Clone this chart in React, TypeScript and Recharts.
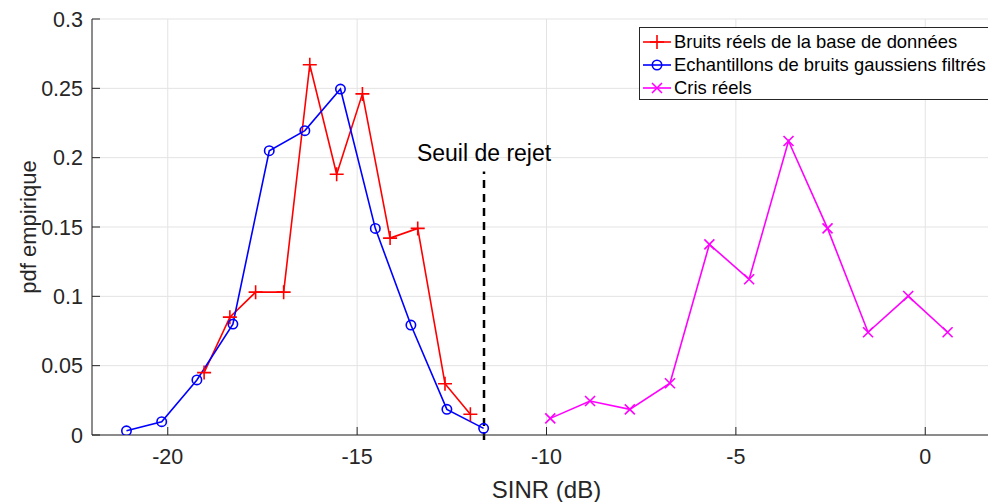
import React from 'react';
import { LineChart, Line, XAxis, YAxis, CartesianGrid, ReferenceLine, ReferenceDot } from 'recharts';

const redX = [-19.04, -18.36, -17.68, -16.94, -16.25, -15.54, -14.86, -14.13, -13.4, -12.68, -12.01];
const redY = [0.045, 0.085, 0.103, 0.103, 0.267, 0.188, 0.246, 0.142, 0.149, 0.037, 0.015];
const blueX = [-21.09, -20.16, -19.23, -18.28, -17.32, -16.38, -15.44, -14.52, -13.58, -12.63, -11.66];
const blueY = [0.003, 0.0096, 0.0397, 0.08, 0.205, 0.2195, 0.2495, 0.149, 0.0793, 0.0185, 0.0048];
const magX = [-9.9, -8.85, -7.8, -6.74, -5.7, -4.65, -3.61, -2.58, -1.51, -0.45, 0.59];
const magY = [0.012, 0.0245, 0.0185, 0.0373, 0.1375, 0.1123, 0.212, 0.149, 0.0741, 0.1002, 0.0741];

const seriesNames = [
  'Bruits réels de la base de données',
  'Echantillons de bruits gaussiens filtrés',
  'Cris réels',
];
const seriesColors = ['#ff0000', '#0000ff', '#ff00ff'];
const seriesMarkers = ['plus', 'circle', 'cross'];

const xTicks = [-20, -15, -10, -5, 0];
const yTicks = [0, 0.05, 0.1, 0.15, 0.2, 0.25, 0.3];
const thresholdX = -11.65;
const thresholdTop = 0.19;
const thresholdBottom = -0.0036;
const thresholdLabel = 'Seuil de rejet';
const xLabel = 'SINR (dB)';
const yLabel = 'pdf empirique';

const zip = (xs: number[], ys: number[]) => xs.map((x, i) => ({ x, y: ys[i] }));
const redData = zip(redX, redY);
const blueData = zip(blueX, blueY);
const magData = zip(magX, magY);

const FONT = '"Liberation Sans", Arial, Helvetica, sans-serif';
const TXT = '#262626';

function Marker({ kind, cx, cy, color }: { kind: string; cx: number; cy: number; color: string }) {
  if (kind === 'plus') {
    const s = 7;
    return (
      <path d={`M${cx - s},${cy}H${cx + s}M${cx},${cy - s}V${cy + s}`} stroke={color} strokeWidth={1.6} fill="none" />
    );
  }
  if (kind === 'circle') {
    return <circle cx={cx} cy={cy} r={4.7} stroke={color} strokeWidth={1.6} fill="none" />;
  }
  const s = 5;
  return (
    <path d={`M${cx - s},${cy - s}L${cx + s},${cy + s}M${cx - s},${cy + s}L${cx + s},${cy - s}`} stroke={color} strokeWidth={1.6} fill="none" />
  );
}

const makeDot = (kind: string, color: string) => (props: any) => {
  const { cx, cy, index } = props;
  if (cx == null || cy == null) return <g key={`d-${kind}-${index}`} />;
  return (
    <g key={`d-${kind}-${index}`}>
      <Marker kind={kind} cx={cx} cy={cy} color={color} />
    </g>
  );
};

function LegendBox() {
  return (
    <div
      style={{
        position: 'absolute',
        left: 639,
        top: 27,
        width: 360,
        height: 73,
        border: '1px solid #262626',
        background: '#fff',
        boxSizing: 'border-box',
        fontFamily: FONT,
        fontSize: 18.4,
        color: '#000',
        paddingTop: 2,
      }}
    >
      {seriesNames.map((name, i) => (
        <div key={name} style={{ display: 'flex', alignItems: 'center', height: 23.3, whiteSpace: 'nowrap' }}>
          <svg width={33} height={20} style={{ flex: 'none' }}>
            <line x1={3} x2={31} y1={10} y2={10} stroke={seriesColors[i]} strokeWidth={1.6} />
            <Marker kind={seriesMarkers[i]} cx={17} cy={10} color={seriesColors[i]} />
          </svg>
          <span style={{ marginLeft: 1 }}>{name}</span>
        </div>
      ))}
    </div>
  );
}

export default function App() {
  return (
    <div style={{ position: 'absolute', left: 0, top: 0, width: 988, height: 502, overflow: 'hidden', background: '#fff' }}>
      <LineChart width={1001} height={502} margin={{ top: 19, right: 0, bottom: 0, left: 0 }}>
        <CartesianGrid stroke="#e3e3e3" strokeWidth={1} />
        <XAxis
          dataKey="x"
          type="number"
          domain={[-22, 2]}
          ticks={xTicks}
          allowDataOverflow
          height={67}
          tickSize={-8}
          tickMargin={22}
          stroke={TXT}
          tick={{ fill: TXT, fontSize: 21.5, fontFamily: FONT }}
          label={{ value: xLabel, position: 'insideBottom', offset: 4, fill: TXT, fontSize: 24, fontFamily: FONT }}
        />
        <YAxis
          type="number"
          domain={[0, 0.3]}
          ticks={yTicks}
          allowDataOverflow
          width={92}
          tickSize={-8}
          tickMargin={17}
          stroke={TXT}
          tickFormatter={(v: number) => String(Number(v.toFixed(2)))}
          tick={{ fill: TXT, fontSize: 21.5, fontFamily: FONT }}
          label={{ value: yLabel, angle: -90, position: 'insideLeft', offset: 28, fill: TXT, fontSize: 22, fontFamily: FONT, style: { textAnchor: 'middle' } }}
        />
        <ReferenceLine
          segment={[{ x: thresholdX, y: thresholdBottom }, { x: thresholdX, y: thresholdTop }]}
          stroke="#000"
          strokeWidth={2.5}
          strokeDasharray="8 6"
          ifOverflow="visible"
        />
        <ReferenceDot
          x={thresholdX}
          y={thresholdTop}
          r={0}
          fill="none"
          stroke="none"
          ifOverflow="visible"
          label={{ value: thresholdLabel, position: 'top', offset: 11, fill: '#000', fontSize: 23, fontFamily: FONT }}
        />
        <Line data={redData} dataKey="y" stroke={seriesColors[0]} strokeWidth={1.6} dot={makeDot('plus', seriesColors[0])} isAnimationActive={false} />
        <Line data={blueData} dataKey="y" stroke={seriesColors[1]} strokeWidth={1.6} dot={makeDot('circle', seriesColors[1])} isAnimationActive={false} />
        <Line data={magData} dataKey="y" stroke={seriesColors[2]} strokeWidth={1.6} dot={makeDot('cross', seriesColors[2])} isAnimationActive={false} />
      </LineChart>
      <LegendBox />
    </div>
  );
}
